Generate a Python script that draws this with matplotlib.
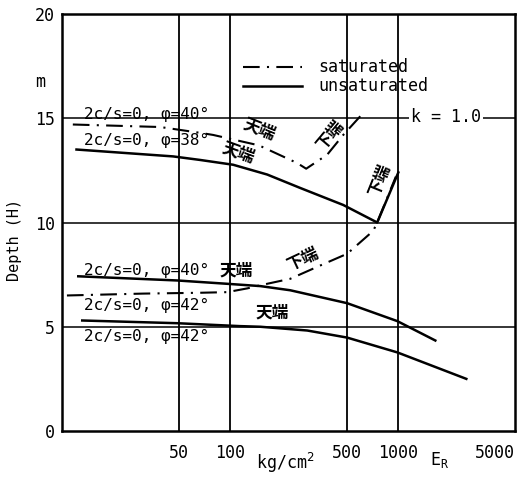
import matplotlib
matplotlib.use("Agg")
import matplotlib.pyplot as plt

# ---- data ----
sat40_x = [11.6, 38.4, 66.5, 79.5, 149, 252, 285, 380, 474, 615]
sat40_y = [14.7, 14.58, 14.3, 14.2, 13.7, 12.85, 12.58, 13.25, 14.2, 15.2]

unsat38_x = [12.2, 45.9, 66.5, 104.6, 167, 262, 474, 755, 1009]
unsat38_y = [13.5, 13.17, 13.0, 12.77, 12.3, 11.66, 10.84, 10.0, 12.4]

unsat40_x = [12.5, 48.5, 96.4, 152, 229, 500, 995, 1676]
unsat40_y = [7.42, 7.22, 7.06, 6.95, 6.75, 6.13, 5.27, 4.34]

sat42_x = [10.7, 30.4, 66.5, 96.4, 127, 152, 229, 360, 500, 715, 755, 975]
sat42_y = [6.5, 6.59, 6.63, 6.66, 6.84, 6.99, 7.3, 8.0, 8.5, 9.6, 10.0, 12.2]

unsat42_x = [13.2, 48.5, 115, 152, 289, 500, 995, 2564]
unsat42_y = [5.3, 5.17, 5.03, 5.0, 4.82, 4.48, 3.77, 2.5]

xticks = [50, 100, 500, 1000, 5000]
yticks = [0, 5, 10, 15, 20]
vgrid = [50, 100, 500, 1000]
hgrid = [5, 10, 15]

MONO = ['DejaVu Sans Mono', 'Noto Sans CJK JP']
CJK = ['Noto Sans CJK JP', 'DejaVu Sans']

fig = plt.figure(figsize=(5.19, 4.78), dpi=100)
ax = fig.add_axes([62/519, 1-431/478, (515-62)/519, (431-14)/478])
ax.set_xscale('log')
ax.set_xlim(10, 5000)
ax.set_ylim(0, 20)

for v in vgrid:
    ax.axvline(v, color='black', lw=1.3, zorder=1)
for h in hgrid:
    ax.axhline(h, color='black', lw=1.1, zorder=1)

dashdot = (0, (8, 3.5, 1, 3.5))
lw = 1.8
ax.plot(sat40_x, sat40_y, color='black', lw=1.5, linestyle=dashdot, zorder=3)
ax.plot(unsat38_x, unsat38_y, color='black', lw=lw, zorder=3)
ax.plot(unsat40_x, unsat40_y, color='black', lw=lw, zorder=3)
ax.plot(sat42_x, sat42_y, color='black', lw=1.5, linestyle=dashdot, zorder=3)
ax.plot(unsat42_x, unsat42_y, color='black', lw=lw, zorder=3)

ax.set_xticks(xticks)
ax.set_xticklabels([str(t) for t in xticks], family=MONO, fontsize=12)
ax.get_xticklabels()[-1].set_horizontalalignment('right')
ax.set_yticks(yticks)
ax.set_yticklabels([str(t) for t in yticks], family=MONO, fontsize=12)
ax.minorticks_off()
ax.tick_params(length=0, pad=5)
ax.tick_params(axis='x', pad=9)
for s in ax.spines.values():
    s.set_linewidth(1.8)

# legend (drawn in axes fraction)
ax.plot([(243-62)/453, (302-62)/453], [(431-67)/417]*2, transform=ax.transAxes,
        color='black', lw=1.5, linestyle=dashdot)
ax.plot([(243-62)/453, (302-62)/453], [(431-86)/417]*2, transform=ax.transAxes,
        color='black', lw=lw)
ax.text((318-62)/453, (431-67)/417, 'saturated', transform=ax.transAxes,
        family=MONO, fontsize=12, va='center', ha='left')
ax.text((318-62)/453, (431-86)/417, 'unsaturated', transform=ax.transAxes,
        family=MONO, fontsize=12, va='center', ha='left')

ax.text(1950, 15.08, 'k = 1.0', family=MONO, fontsize=12, ha='center', va='center',
        bbox=dict(facecolor='white', edgecolor='none', pad=1.5), zorder=4)

lab = dict(family=MONO, fontsize=11.5, ha='center', va='center', zorder=4)
ax.text(32.1, 15.18, '2c/s=0, φ=40°', **lab)
ax.text(32.1, 13.93, '2c/s=0, φ=38°', **lab)
ax.text(32.1, 7.71, '2c/s=0, φ=40°', **lab)
ax.text(32.1, 6.02, '2c/s=0, φ=42°', **lab)
ax.text(32.1, 4.53, '2c/s=0, φ=42°', **lab)

cj = dict(family=CJK, fontsize=12, ha='center', va='center', fontweight='bold', zorder=4)
ax.text(150, 14.46, '天端', rotation=-22, **cj)
ax.text(112, 13.35, '天端', rotation=-20, **cj)
ax.text(396, 14.17, '下端', rotation=50, **cj)
ax.text(777, 12.0, '下端', rotation=68, **cj)
ax.text(109, 7.71, '天端', **cj)
ax.text(179, 5.69, '天端', **cj)
ax.text(273, 8.24, '下端', rotation=25, **cj)

ax.text(-22/453, (431-82)/417, 'm', transform=ax.transAxes, family=MONO,
        fontsize=12, ha='center', va='center')

fig.text(15/519, 1-240/478, 'Depth (H)', rotation=90, family=MONO, fontsize=11,
         ha='center', va='center')
fig.text(285/519, 1-463/478, 'kg/cm$^2$', family=MONO, fontsize=12, ha='center', va='center')
fig.text(440/519, 1-460/478, 'E$_\\mathregular{R}$', family=MONO, fontsize=12,
         ha='center', va='center')

fig.savefig('out.png', dpi=100)
